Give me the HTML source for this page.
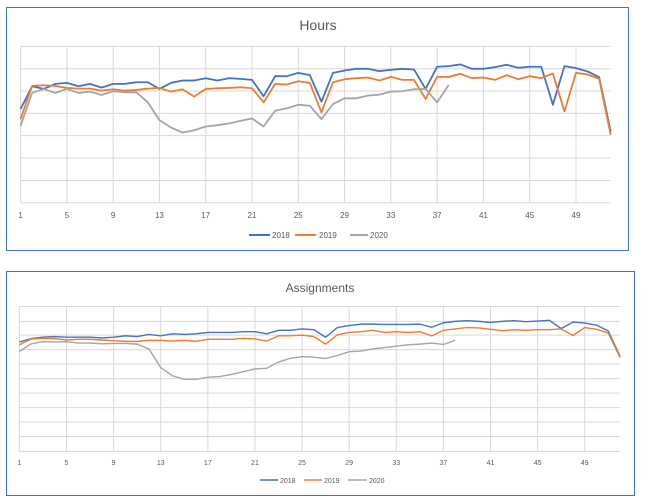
<!DOCTYPE html>
<html><head><meta charset="utf-8"><style>
html,body{margin:0;padding:0;background:#fff;}
svg{display:block;font-family:"Liberation Sans",sans-serif;}
</style></head><body>
<svg id="s" width="646" height="501" viewBox="0 0 646 501">
<rect x="6.5" y="7.5" width="622" height="243" fill="#fff" stroke="#4472c4" stroke-width="1"/>
<rect x="6.5" y="271.5" width="628" height="224" fill="#fff" stroke="#4472c4" stroke-width="1"/>
<text x="318" y="30" font-size="14" fill="#595959" text-anchor="middle">Hours</text>
<text x="320" y="292" font-size="12" fill="#595959" text-anchor="middle">Assignments</text>
<g id="c1" transform="scale(0.4115,0.3356)"></g>
<g id="c2" transform="translate(0,260) scale(0.4124,0.3448)"></g>
<g id="t"></g>
<g font-size="8" fill="#595959">
<line x1="249" y1="235" x2="270" y2="235" stroke="#4472c4" stroke-width="2"/><text x="272" y="238">2018</text>
<line x1="295" y1="235" x2="316" y2="235" stroke="#ed7d31" stroke-width="2"/><text x="319" y="238">2019</text>
<line x1="350" y1="235" x2="368" y2="235" stroke="#a5a5a5" stroke-width="2"/><text x="370" y="238">2020</text>
<line x1="260" y1="480" x2="278" y2="480" stroke="#4472c4" stroke-width="1.5"/><text x="280" y="483" font-size="7">2018</text>
<line x1="304" y1="480" x2="322" y2="480" stroke="#ed7d31" stroke-width="1.5"/><text x="324" y="483" font-size="7">2019</text>
<line x1="348" y1="480" x2="367" y2="480" stroke="#a5a5a5" stroke-width="1.5"/><text x="369" y="483" font-size="7">2020</text>
</g>
</svg>
<script>
var NS="http://www.w3.org/2000/svg";
function el(p,n,a){var e=document.createElementNS(NS,n);for(var k in a)e.setAttribute(k,a[k]);p.appendChild(e);return e;}
function chart(g,x0,dx,right,grid,axisY,data,sw){
  grid.forEach(function(y){el(g,"line",{x1:x0,y1:y,x2:right,y2:y,stroke:"#d9d9d9","stroke-width":1,"vector-effect":"non-scaling-stroke"});});
  for(var w=1;w<=49;w+=4){var x=x0+(w-1)*dx;el(g,"line",{x1:x,y1:grid[0],x2:x,y2:axisY,stroke:"#d9d9d9","stroke-width":1,"vector-effect":"non-scaling-stroke"});}
  el(g,"line",{x1:x0,y1:axisY,x2:right,y2:axisY,stroke:"#d9d9d9","stroke-width":1,"vector-effect":"non-scaling-stroke"});
  var cols=["#4472c4","#ed7d31","#a5a5a5"];
  data.forEach(function(d,i){var pts=d.map(function(v,j){return (x0+j*dx)+","+v;}).join(" ");
    el(g,"polyline",{points:pts,fill:"none",stroke:cols[i],"stroke-width":sw,"vector-effect":"non-scaling-stroke","stroke-linejoin":"round"});});
}
var h=[[325,257,265,250,247,257,250,261,250,250,245,245,265,247,240,240,233,240,233,235,238,287,227,227,217,224,303,217,210,205,205,212,208,205,207,265,199,197,192,205,205,200,193,202,199,199,312,197,203,213,230,392],
[355,256,254,256,262,264,264,270,266,270,268,264,262,273,266,288,265,263,262,260,263,305,250,252,242,247,335,245,236,233,231,240,229,238,238,295,229,229,220,233,231,238,224,236,227,233,219,332,217,222,235,402],
[375,277,265,277,265,277,273,283,272,275,275,305,358,380,395,388,377,373,368,360,353,377,330,323,312,315,355,310,293,293,285,282,273,272,266,265,305,253]];
var a=[[238,228,224,222,224,224,224,226,224,220,222,216,220,214,216,214,210,210,210,208,208,214,204,204,200,202,224,196,190,186,186,187,187,187,186,195,182,178,176,178,181,178,176,179,177,175,199,180,183,189,206,280],
[246,229,227,228,232,230,230,232,234,236,236,233,233,235,233,236,230,230,230,227,229,235,220,220,218,222,244,217,210,208,204,210,208,210,208,220,204,200,196,197,201,205,202,204,202,202,200,219,196,201,212,283],
[265,243,237,238,237,241,241,243,242,242,244,258,312,336,346,346,340,338,332,324,316,314,296,285,280,282,286,277,266,264,258,254,250,246,244,241,245,233]];
chart(document.getElementById("c1"),50,28.12,1484,[138,205,271,338,404,471,538],604,h,1.8);
chart(document.getElementById("c2"),47,28.56,1504,[135,178,218,260,302,344,386,428,470,512],555,a,1.4);
var t=document.getElementById("t");
for(var w=1;w<=49;w+=4){
 var x1=(50+(w-1)*28.12)*0.4115, x2=(47+(w-1)*28.56)*0.4124;
 var e=el(t,"text",{x:x1,y:218,"font-size":8,fill:"#595959","text-anchor":"middle"});e.textContent=w;
 var f=el(t,"text",{x:x2,y:465,"font-size":7,fill:"#595959","text-anchor":"middle"});f.textContent=w;
}
</script>
</body></html>
